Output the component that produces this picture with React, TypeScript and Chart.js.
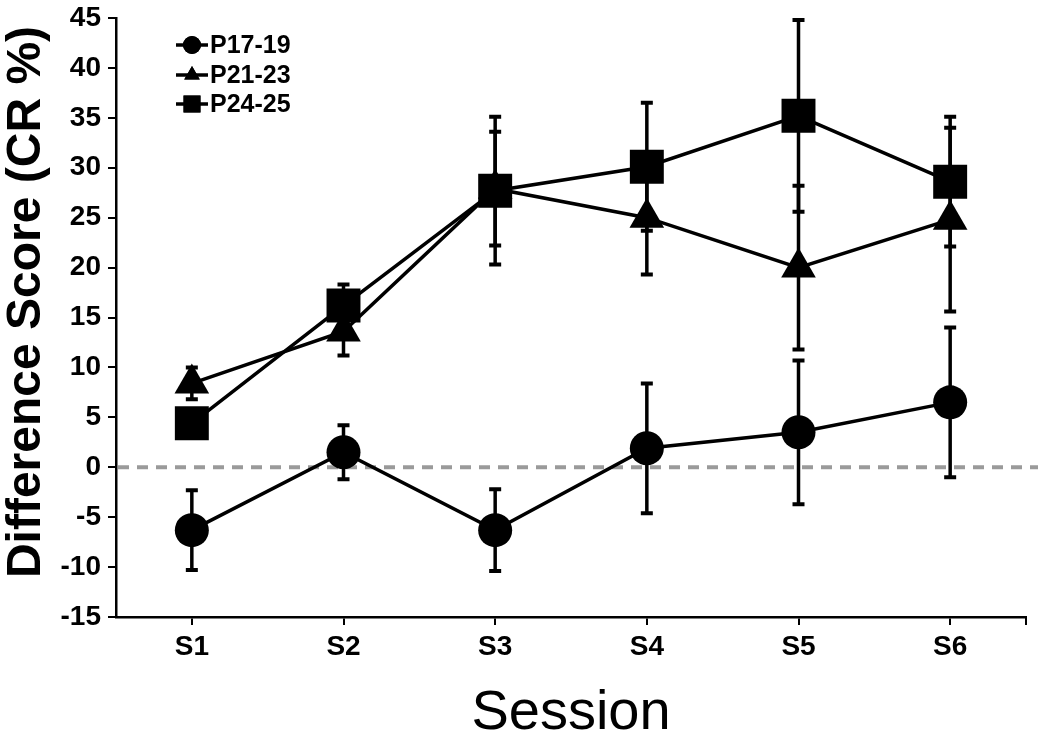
import React, { useEffect, useRef } from "react";
import { Chart, registerables } from "chart.js";
import { drawPoint } from "chart.js/helpers";

Chart.register(...registerables);

const categories = ["S1", "S2", "S3", "S4", "S5", "S6"];
const seriesNames = ["P17-19", "P21-23", "P24-25"];
const p1719 = [-6.3, 1.5, -6.3, 1.9, 3.5, 6.5];
const p1719Err = [4.0, 2.7, 4.1, 6.5, 7.2, 7.5];
const p2123 = [8.4, 13.6, 27.9, 25.0, 20.0, 24.8];
const p2123Err = [1.6, 2.4, 5.7, 5.7, 8.2, 9.2];
const p2425 = [4.4, 16.2, 27.7, 30.1, 35.2, 28.6];
const p2425Err = [1.2, 2.1, 7.4, 6.4, 9.6, 6.5];
const yTicks = [-15, -10, -5, 0, 5, 10, 15, 20, 25, 30, 35, 40, 45];
const yTitle = "Difference Score (CR %)";
const xTitle = "Session";

const FONT = "'Liberation Sans', Arial, sans-serif";
const SHIFT = 6;

const errorBarsPlugin = {
  id: "errorBars",
  beforeDatasetsDraw(chart: any) {
    const { ctx, chartArea, scales } = chart;
    const y0 = scales.y.getPixelForValue(0);
    ctx.save();
    ctx.strokeStyle = "#9a9a9a";
    ctx.lineWidth = 4;
    ctx.setLineDash([11, 8]);
    ctx.beginPath();
    ctx.moveTo(chartArea.left + 2, y0);
    ctx.lineTo(chartArea.right + 12, y0);
    ctx.stroke();
    ctx.restore();
  },
  afterDatasetsDraw(chart: any) {
    const { ctx, scales, chartArea } = chart;
    ctx.save();
    ctx.strokeStyle = "#000";
    chart.data.datasets.forEach((ds: any, di: number) => {
      const meta = chart.getDatasetMeta(di);
      ds.errors.forEach((e: number, i: number) => {
        const v = ds.data[i];
        const x = meta.data[i].x;
        const yt = scales.y.getPixelForValue(v + e);
        const yb = scales.y.getPixelForValue(v - e);
        ctx.lineWidth = 3.5;
        ctx.beginPath();
        ctx.moveTo(x, yt);
        ctx.lineTo(x, yb);
        ctx.stroke();
        ctx.lineWidth = 4;
        ctx.beginPath();
        ctx.moveTo(x - 6, yt);
        ctx.lineTo(x + 6, yt);
        ctx.moveTo(x - 6, yb);
        ctx.lineTo(x + 6, yb);
        ctx.stroke();
      });
    });
    ctx.lineWidth = 2;
    ctx.beginPath();
    ctx.moveTo(chartArea.right, chartArea.bottom);
    ctx.lineTo(chartArea.right, chartArea.bottom + 8);
    ctx.stroke();
    ctx.restore();
  },
  afterDraw(chart: any) {
    const { ctx } = chart;
    const rows = [45 + SHIFT, 75 + SHIFT, 104 + SHIFT];
    ctx.save();
    chart.data.datasets.forEach((ds: any, i: number) => {
      const y = rows[i];
      ctx.strokeStyle = "#000";
      ctx.lineWidth = 3.5;
      ctx.beginPath();
      ctx.moveTo(176, y);
      ctx.lineTo(208, y);
      ctx.stroke();
      ctx.fillStyle = "#000";
      drawPoint(ctx, { pointStyle: ds.pointStyle, radius: ds.pointStyle === "rect" ? 12 : 9, rotation: 0, borderWidth: 0 } as any, 192, y);
      ctx.fill();
      ctx.font = `bold 25px ${FONT}`;
      ctx.textBaseline = "middle";
      ctx.textAlign = "left";
      ctx.fillText(ds.label, 210, y + 1);
    });
    ctx.translate(27, 302 + SHIFT);
    ctx.rotate(-Math.PI / 2);
    ctx.font = `bold 48px ${FONT}`;
    ctx.textAlign = "center";
    ctx.textBaseline = "middle";
    ctx.fillStyle = "#000";
    ctx.fillText(yTitle, 0, 0);
    ctx.restore();
  },
};

export default function App() {
  const ref = useRef<HTMLCanvasElement>(null);
  useEffect(() => {
    const mk = (label: string, data: number[], errors: number[], pointStyle: string, radius: number) => ({
      label,
      data,
      errors,
      pointStyle,
      pointRadius: radius,
      pointHoverRadius: radius,
      borderColor: "#000",
      backgroundColor: "#000",
      pointBackgroundColor: "#000",
      pointBorderWidth: 0,
      borderWidth: 3.5,
      tension: 0,
    });
    const chart = new Chart(ref.current!, {
      type: "line",
      data: {
        labels: categories,
        datasets: [
          mk(seriesNames[0], p1719, p1719Err, "circle", 17),
          mk(seriesNames[1], p2123, p2123Err, "triangle", 20),
          mk(seriesNames[2], p2425, p2425Err, "rect", 24),
        ] as any,
      },
      options: {
        animation: false,
        responsive: false,
        maintainAspectRatio: false,
        layout: { padding: { top: 14, right: 20, left: 0, bottom: 0 } },
        plugins: { legend: { display: false }, tooltip: { enabled: false } },
        scales: {
          x: {
            type: "category",
            offset: true,
            afterFit(s: any) {
              s.height = 125;
              s.paddingLeft = 0;
              s.paddingRight = 0;
            },
            grid: { offset: false, drawOnChartArea: false, color: "#000", lineWidth: 2, tickLength: 8 },
            border: { display: true, color: "#000", width: 2.5 },
            ticks: { color: "#000", font: { family: FONT, size: 28, weight: "bold" }, padding: 5, maxRotation: 0 },
            title: { display: true, text: xTitle, color: "#000", font: { family: FONT, size: 56, lineHeight: 1.0 }, padding: { top: 0, bottom: 0 } },
          },
          y: {
            min: -15,
            max: 45,
            afterFit(s: any) {
              s.width = 116;
            },
            afterBuildTicks(s: any) {
              s.ticks = yTicks.map((v) => ({ value: v }));
            },
            grid: { drawOnChartArea: false, color: "#000", lineWidth: 2, tickLength: 8 },
            border: { display: true, color: "#000", width: 2.5 },
            ticks: { color: "#000", font: { family: FONT, size: 28, weight: "bold" }, padding: 7 },
            title: { display: false },
          },
        },
      } as any,
      plugins: [errorBarsPlugin],
    });
    return () => chart.destroy();
  }, []);
  return (
    <div style={{ position: "fixed", left: 0, top: 0, width: 1050, height: 742, overflow: "hidden", background: "#fff" }}>
      <canvas
        ref={ref}
        width={1050}
        height={742 + SHIFT}
        style={{ position: "absolute", left: 0, top: -SHIFT, width: 1050, height: 742 + SHIFT }}
      />
    </div>
  );
}
